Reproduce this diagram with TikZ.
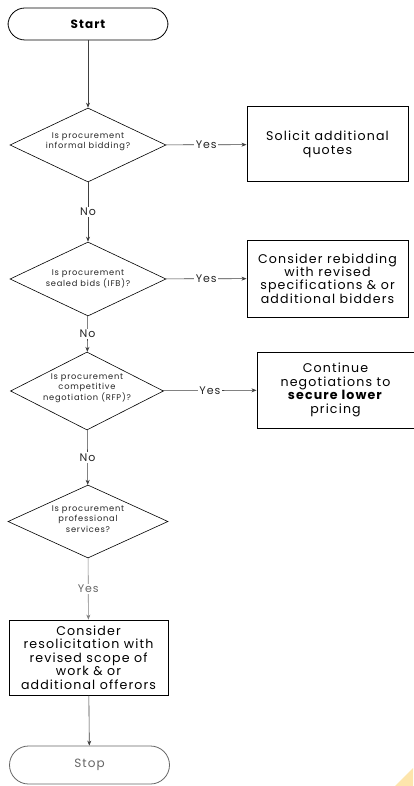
\documentclass[tikz,border=0pt]{standalone}
\usepackage{fontspec}
\setmainfont{Poppins}[LetterSpace=9]
\usetikzlibrary{shapes.geometric,arrows.meta}
\tikzset{
  terminal/.style={draw, rounded corners=17pt, minimum width=160pt, minimum height=32pt, inner sep=0pt, font=\bfseries\fontsize{12}{14}\selectfont, line width=0.8pt},
  decision/.style={draw, diamond, minimum width=156pt, minimum height=74pt, inner sep=0pt, line width=0.6pt},
  dtext/.style={align=center, font=\fontsize{8.3}{10.3}\selectfont, inner sep=0pt, text=black!85},
  actbox/.style={draw, rectangle, inner sep=0pt, align=center, font=\fontsize{12.6}{13.4}\selectfont, line width=1pt},
  flow/.style={draw=black!75, line width=0.6pt, -{Stealth[length=5pt,width=4pt]}},
  lbl/.style={fill=white, inner sep=1.5pt, font=\fontsize{11}{12}\selectfont, text=black!85}
}
\begin{document}
\begin{tikzpicture}[x=1pt,y=-1pt]
\useasboundingbox (0,0) rectangle (413,786);
\fill[white] (0,0) rectangle (413,786);
\fill[yellow!40!orange!30] (395,786) -- (413,768) -- (413,786) -- cycle;

\node[terminal] (start) at (88,24) {Start};

\node[decision] (d1) at (88,145) {};
\node[dtext] (t1) at (88,142) {Is procurement\\informal bidding?};
\node[actbox, minimum width=161pt, minimum height=75pt] (b1) at (327.5,144.5) {Solicit additional\\quotes};

\node[decision] (d2) at (88,279) {};
\node[dtext] (t2) at (88,279) {Is procurement\\sealed bids (IFB)?};
\node[actbox, minimum width=161pt, minimum height=77pt] (b2) at (327.5,278.5) {Consider rebidding\\with revised\\specifications \& or\\additional bidders};

\node[decision, minimum width=153pt, minimum height=78pt] (d3) at (87,391) {};
\node[dtext] (t3) at (87,388) {Is procurement\\competitive\\negotiation (RFP)?};
\node[actbox, minimum width=157pt, minimum height=76pt] (b3) at (335.5,390) {Continue\\negotiations to\\\textbf{secure lower}\\pricing};

\node[decision, minimum width=160pt, minimum height=73pt] (d4) at (88,521.5) {};
\node[dtext] (t4) at (88,519) {Is procurement\\professional\\services?};

\node[actbox, minimum width=159pt, minimum height=75pt, line width=0.8pt] (b4) at (88.5,657.5) {Consider\\resolicitation with\\revised scope of\\work \& or\\additional offerors};

\node[terminal, draw=black!60, minimum height=38pt, rounded corners=19pt, text=black!60, font=\fontsize{12}{14}\selectfont] (stop) at (89.5,765) {Stop};

\draw[flow] (start) -- (d1);
\draw[flow] (d1) -- node[lbl] (y1) {Yes} (b1);
\draw[flow] (d1) -- node[lbl] (n1) {No} (d2);
\draw[flow] (d2) -- node[lbl] (y2) {Yes} (b2);
\draw[flow] (d2) -- node[lbl] (n2) {No} (d3);
\draw[flow] (d3) -- node[lbl] (y3) {Yes} (b3);
\draw[flow] (d3) -- node[lbl] (n3) {No} (d4);
\draw[flow, draw=black!50] (d4) -- node[lbl, text=black!60] (y4) {Yes} (b4);
\draw[flow] (b4) -- (stop);
\end{tikzpicture}
\end{document}
